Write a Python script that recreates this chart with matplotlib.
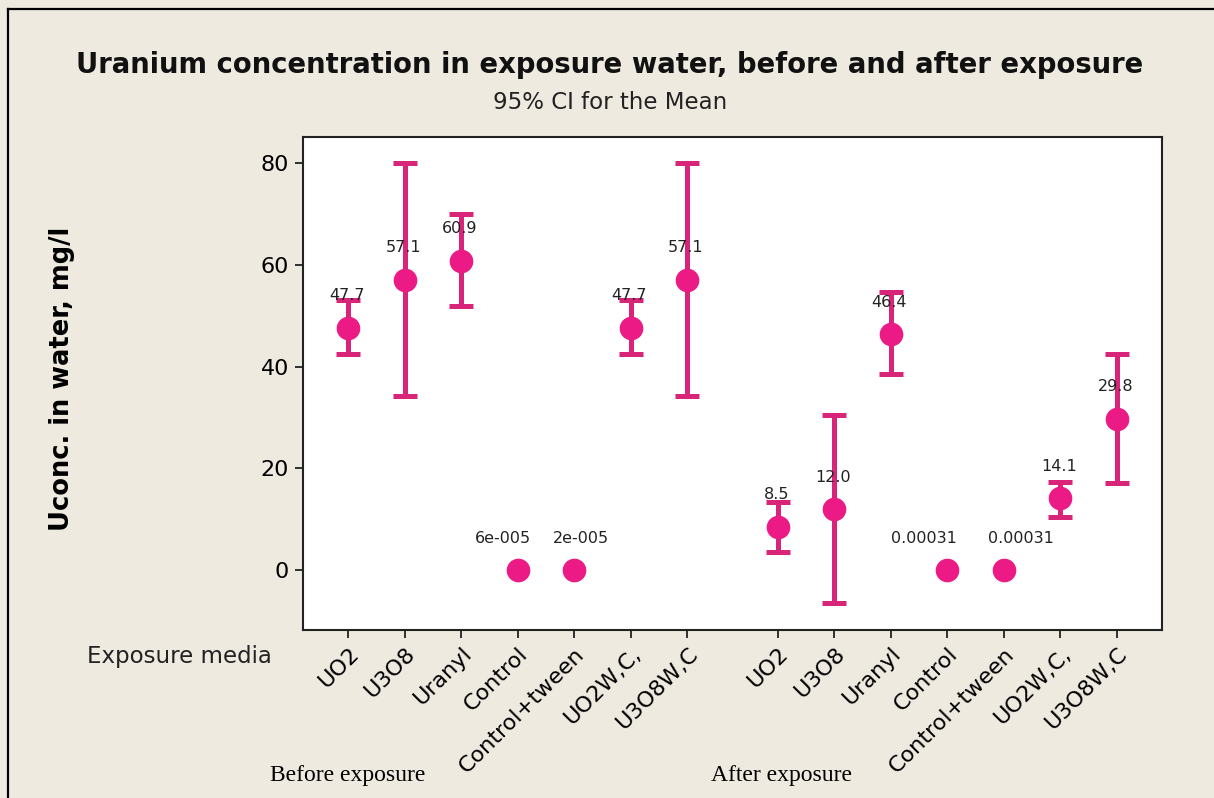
import numpy as np
import matplotlib.pyplot as plt
from matplotlib.lines import Line2D

# Данные: средние и 95% доверительные интервалы
media = ['UO2', 'U3O8', 'Uranyl', 'Control', 'Control+tween', 'UO2W,C,', 'U3O8W,C']
before_mean = [47.7, 57.1, 60.9, 0.00006, 0.00002, 47.7, 57.1]
before_low = [42.6, 34.3, 51.9, None, None, 42.6, 34.3]
before_high = [53.1, 80.1, 70.0, None, None, 53.1, 80.1]
before_labels = ['47.7', '57.1', '60.9', '6e-005', '2e-005', '47.7', '57.1']

after_mean = [8.5, 12.0, 46.4, 0.00031, 0.00031, 14.1, 29.8]
after_low = [3.6, -6.5, 38.5, None, None, 10.5, 17.2]
after_high = [13.4, 30.6, 54.8, None, None, 17.4, 42.6]
after_labels = ['8.5', '12.0', '46.4', '0.00031', '0.00031', '14.1', '29.8']

bg = '#EEEAE0'
pink = '#EC1A84'
bar_color = '#D82479'

fig = plt.figure(figsize=(12.14, 7.98), dpi=100, facecolor=bg)
ax = fig.add_axes([0.2496, 0.2105, 0.9572 - 0.2496, 0.8283 - 0.2105])
ax.set_facecolor('white')

pos_before = np.arange(len(media))
pos_after = np.arange(len(media)) + 7.6
x = np.concatenate([pos_before, pos_after])
mean = np.array(before_mean + after_mean)
low = np.array([np.nan if v is None else v for v in before_low + after_low])
high = np.array([np.nan if v is None else v for v in before_high + after_high])
labels = before_labels + after_labels

ok = ~np.isnan(low)
ax.errorbar(x[ok], mean[ok], yerr=[mean[ok] - low[ok], high[ok] - mean[ok]],
            fmt='none', ecolor=bar_color, elinewidth=3.6, capsize=8.5, capthick=3.6, zorder=2)
ax.plot(x, mean, 'o', color=pink, markersize=16, zorder=3)

# подписи контролей раздвигаем, чтобы не налезали друг на друга
shift = {3: -11, 4: 5, 10: -17, 11: 12}
for i, (xi, yi, lab) in enumerate(zip(x, mean, labels)):
    ax.annotate(lab, (xi, yi), xytext=(shift.get(i, -1), 23), textcoords='offset points',
                ha='center', va='center', fontsize=11.5, color='#222222', zorder=4)

ax.set_xlim(-0.8, 14.4)
ax.set_ylim(-11.8, 85.2)
ax.set_yticks([0, 20, 40, 60, 80])
ax.set_xticks(x)
ax.set_xticklabels(media + media, rotation=45, ha='right', va='top',
                   rotation_mode='anchor', fontsize=16)
ax.tick_params(axis='both', direction='out', length=6, width=1.3, color='#222222')
ax.tick_params(axis='y', labelsize=16, pad=4)
ax.tick_params(axis='x', pad=4)
for s in ax.spines.values():
    s.set_linewidth(1.5)
    s.set_color('#222222')

fig.text(0.5025, 0.9185, 'Uranium concentration in exposure water, before and after exposure',
         ha='center', va='center', fontsize=19.8, fontweight='bold', color='#111111')
fig.text(0.5025, 0.872, '95% CI for the Mean', ha='center', va='center', fontsize=16.5,
         color='#222222')
fig.text(0.051, 0.525, 'Uconc. in water, mg/l', rotation=90, ha='center', va='center',
         fontsize=18.5, fontweight='bold')
fig.text(0.224, 0.177, 'Exposure media', ha='right', va='center', fontsize=16.5,
         color='#222222')
fig.text(0.222, 0.028, 'Before exposure', ha='left', va='center', fontsize=17,
         family='Liberation Serif')
fig.text(0.586, 0.028, 'After exposure', ha='left', va='center', fontsize=17,
         family='Liberation Serif')

# Рамка вокруг графика (слева и сверху)
bx = 8 / 1214
by = 1 - 9 / 798
fig.add_artist(Line2D([bx, bx], [0, by], transform=fig.transFigure, color='black', lw=1.6))
fig.add_artist(Line2D([bx, 1], [by, by], transform=fig.transFigure, color='black', lw=1.6))

plt.savefig('out.png', dpi=100, facecolor=bg)
